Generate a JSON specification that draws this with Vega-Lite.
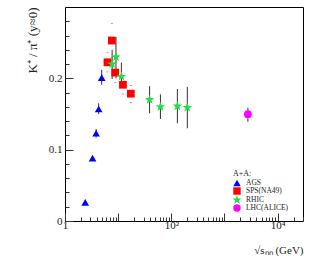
{
  "$schema": "https://vega.github.io/schema/vega-lite/v6.json",
  "autosize": "none",
  "width": 238,
  "height": 214,
  "padding": {"left": 65, "top": 7, "right": 24, "bottom": 56},
  "background": "white",
  "config": {
    "view": {"stroke": "black", "strokeWidth": 1},
    "font": "Liberation Serif",
    "axis": {"labelFont": "Liberation Serif", "titleFont": "Liberation Serif", "domain": false, "grid": false, "tickColor": "#333", "labelColor": "#222", "titleColor": "#222", "titleFontWeight": "normal", "labelOverlap": false}
  },
  "data": {"values": [
    {"sys": "AGS", "e": 2.4, "r": 0.026, "lo": null, "hi": null},
    {"sys": "AGS", "e": 3.3, "r": 0.088, "lo": null, "hi": null},
    {"sys": "AGS", "e": 3.85, "r": 0.123, "lo": 0.117, "hi": 0.129},
    {"sys": "AGS", "e": 4.3, "r": 0.157, "lo": 0.150, "hi": 0.165},
    {"sys": "AGS", "e": 4.9, "r": 0.201, "lo": 0.191, "hi": 0.212},
    {"sys": "SPS(NA49)", "e": 6.3, "r": 0.2225, "lo": 0.209, "hi": 0.236},
    {"sys": "SPS(NA49)", "e": 7.6, "r": 0.253, "lo": 0.229, "hi": 0.277},
    {"sys": "SPS(NA49)", "e": 8.8, "r": 0.208, "lo": 0.194, "hi": 0.222},
    {"sys": "SPS(NA49)", "e": 12.3, "r": 0.191, "lo": 0.178, "hi": 0.203},
    {"sys": "SPS(NA49)", "e": 17.3, "r": 0.1785, "lo": 0.166, "hi": 0.190},
    {"sys": "RHIC", "e": 7.7, "r": 0.220, "lo": 0.199, "hi": 0.240},
    {"sys": "RHIC", "e": 9.1, "r": 0.230, "lo": 0.200, "hi": 0.258},
    {"sys": "RHIC", "e": 11.5, "r": 0.2025, "lo": 0.191, "hi": 0.222},
    {"sys": "RHIC", "e": 39, "r": 0.170, "lo": 0.151, "hi": 0.189},
    {"sys": "RHIC", "e": 62.4, "r": 0.160, "lo": 0.143, "hi": 0.1775},
    {"sys": "RHIC", "e": 130, "r": 0.161, "lo": 0.137, "hi": 0.185},
    {"sys": "RHIC", "e": 200, "r": 0.159, "lo": 0.130, "hi": 0.188},
    {"sys": "LHC(ALICE)", "e": 2760, "r": 0.1497, "lo": 0.139, "hi": 0.159}
  ]},
  "layer": [
    {
      "mark": {"type": "rule", "color": "#333", "strokeWidth": 1},
      "transform": [{"filter": "datum.lo != null && datum.sys != 'SPS(NA49)'"}],
      "encoding": {
        "x": {"field": "e", "type": "quantitative", "scale": {"type": "log", "domain": [1, 30000], "nice": false},
          "axis": {"orient": "bottom", "values": [1,2,3,4,5,6,7,8,9,10,20,30,40,50,60,70,80,90,100,200,300,400,500,600,700,800,900,1000,2000,3000,4000,5000,6000,7000,8000,9000,10000,20000,30000],
            "tickCount": 100,
            "labelExpr": "datum.value == 1 ? '1' : datum.value == 100 ? '10²' : datum.value == 10000 ? '10⁴' : ''",
            "tickSize": {"condition": {"test": "datum.value == 1 || datum.value == 10 || datum.value == 100 || datum.value == 1000 || datum.value == 10000", "value": -8}, "value": -4},
            "labelFontSize": 11, "labelPadding": 6, "labelFlush": false, "labelOverlap": false,
            "title": "√sₙₙ (GeV)", "titleFontSize": 11, "titleAnchor": "end", "titlePadding": 10}},
        "y": {"field": "lo", "type": "quantitative", "scale": {"domain": [0, 0.3], "nice": false, "zero": false},
          "axis": {"orient": "left", "values": [0, 0.02, 0.04, 0.06, 0.08, 0.1, 0.12, 0.14, 0.16, 0.18, 0.2, 0.22, 0.24, 0.26, 0.28],
            "tickCount": 100,
            "labelExpr": "datum.value < 0.001 ? '0' : (abs(datum.value * 10 - round(datum.value * 10)) < 0.001 ? format(datum.value, '.1f') : '')",
            "tickSize": {"condition": {"test": "abs(datum.value * 10 - round(datum.value * 10)) < 0.001", "value": -8}, "value": -4},
            "labelFontSize": 11, "labelPadding": 11, "labelOverlap": false,
            "title": "K⁺ / π⁺ (y≈0)", "titleFontSize": 13, "titleAnchor": "end", "titlePadding": 9}},
        "y2": {"field": "hi"}
      }
    },
    {
      "mark": {"type": "tick", "color": "#777", "thickness": 1, "size": 2, "orient": "horizontal"},
      "transform": [{"filter": "datum.sys == 'SPS(NA49)'"}, {"fold": ["lo", "hi"], "as": ["k", "v"]}],
      "encoding": {
        "x": {"field": "e", "type": "quantitative"},
        "y": {"field": "v", "type": "quantitative"}
      }
    },
    {
      "mark": {"type": "point", "filled": true, "opacity": 1},
      "encoding": {
        "x": {"field": "e", "type": "quantitative"},
        "y": {"field": "r", "type": "quantitative"},
        "shape": {"field": "sys", "type": "nominal",
          "scale": {"domain": ["AGS", "SPS(NA49)", "RHIC", "LHC(ALICE)"],
            "range": ["triangle-up", "square", "M0,-1.3L0.306,-0.421L1.236,-0.402L0.494,0.161L0.764,1.052L0,0.52L-0.764,1.052L-0.494,0.161L-1.236,-0.402L-0.306,-0.421Z", "circle"]},
          "legend": {"orient": "none", "legendX": 168, "legendY": 163, "title": "A+A:", "titleFontSize": 8, "titleFontWeight": "normal", "titleFont": "Liberation Serif", "titleColor": "#222", "titlePadding": 1, "labelFont": "Liberation Serif", "labelFontSize": 7.5, "labelColor": "#222", "symbolSize": 55, "rowPadding": 0, "labelOffset": 5, "symbolStrokeWidth": 0}},
        "color": {"field": "sys", "type": "nominal",
          "scale": {"domain": ["AGS", "SPS(NA49)", "RHIC", "LHC(ALICE)"], "range": ["#0000ff", "#ff0000", "#22dd44", "#ff00ff"]}},
        "size": {"value": 60}
      }
    }
  ]
}
